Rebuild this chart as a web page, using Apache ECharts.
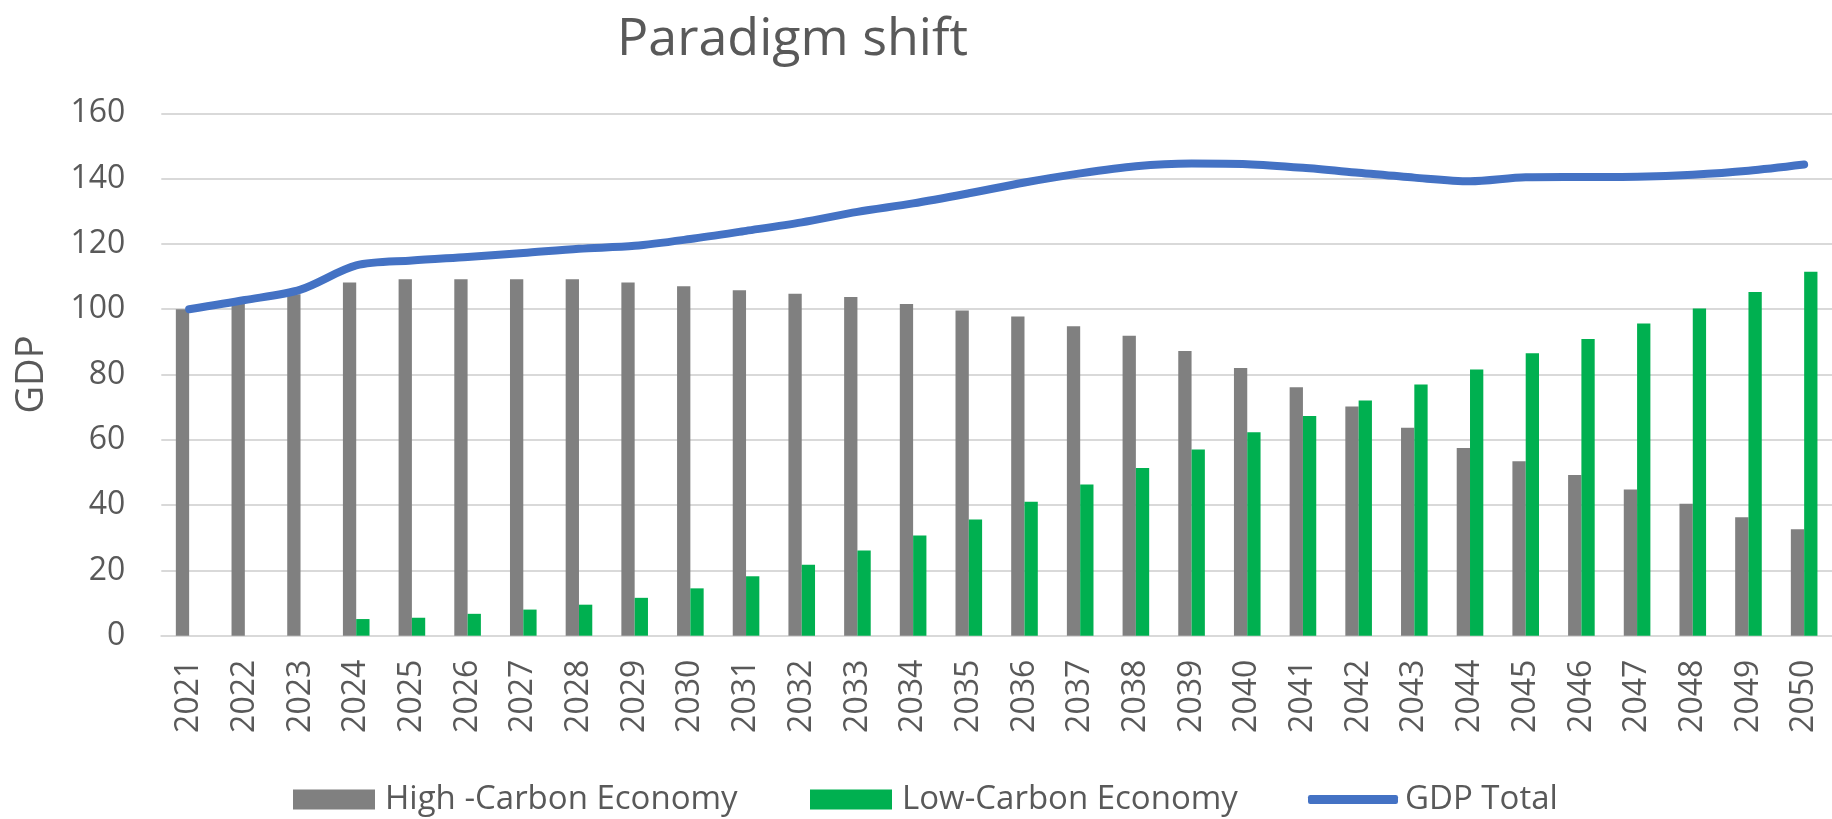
<!DOCTYPE html>
<html><head><meta charset="utf-8">
<script src="https://cdn.jsdelivr.net/npm/echarts@6/dist/echarts.min.js"></script>
<style>html,body{margin:0;padding:0;background:#fff;overflow:hidden;}#c{width:1832px;height:880px;}</style>
</head><body><div id="c"></div>
<script>
const years = ['2021','2022','2023','2024','2025','2026','2027','2028','2029','2030',
  '2031','2032','2033','2034','2035','2036','2037','2038','2039','2040',
  '2041','2042','2043','2044','2045','2046','2047','2048','2049','2050'];
const highCarbon = [100, 101.8, 104.6, 108.2, 109.2, 109.2, 109.2, 109.2, 108.2, 107,
  105.8, 104.7, 103.7, 101.6, 99.6, 97.8, 94.8, 91.9, 87.2, 82,
  76.1, 70.2, 63.7, 57.5, 53.4, 49.2, 44.8, 40.4, 36.3, 32.6];
const lowCarbon = [0, 0, 0, 5.1, 5.5, 6.7, 8, 9.5, 11.6, 14.5,
  18.2, 21.7, 26.1, 30.7, 35.6, 41, 46.3, 51.4, 57, 62.3,
  67.3, 72, 76.9, 81.5, 86.5, 90.9, 95.6, 100.2, 105.3, 111.5];
const gdpTotal = [100, 102.8, 106, 113.4, 114.9, 116, 117.2, 118.5, 119.4, 121.5,
  124, 126.6, 129.8, 132.4, 135.5, 138.8, 141.6, 143.8, 144.6, 144.4,
  143.3, 141.8, 140.3, 139.2, 140.4, 140.5, 140.6, 141.2, 142.4, 144.3];
const seriesNames = ['High -Carbon Economy', 'Low-Carbon Economy', 'GDP Total'];

const FONT = 'Open Sans';
const TXT = '#595959';
const chart = echarts.init(document.getElementById('c'), null, {renderer: 'canvas'});
chart.setOption({
  animation: false,
  backgroundColor: '#ffffff',
  title: {
    text: 'Paradigm shift',
    left: 617, top: 14, padding: 0,
    textStyle: {fontFamily: FONT, fontSize: 52, fontWeight: 'normal', color: TXT}
  },
  legend: [
    {data: [seriesNames[0]], left: 293, top: 783, padding: 0, itemWidth: 82, itemHeight: 20, itemGap: 0,
     icon: 'rect', textStyle: {fontFamily: FONT, fontSize: 33, color: TXT, padding: [0, 0, 0, 5]}},
    {data: [seriesNames[1]], left: 810, top: 783, padding: 0, itemWidth: 82, itemHeight: 20, itemGap: 0,
     icon: 'rect', textStyle: {fontFamily: FONT, fontSize: 33, color: TXT, padding: [0, 0, 0, 5]}},
    {data: [seriesNames[2]], left: 1308, top: 783, padding: 0, itemWidth: 90, itemHeight: 9, itemGap: 0,
     icon: 'roundRect', textStyle: {fontFamily: FONT, fontSize: 33, color: TXT, padding: [0, 0, 0, 2]}}
  ],
  grid: {left: 161.3, top: 113.3, width: 1679, height: 522.4, containLabel: false},
  xAxis: {
    type: 'category', data: years,
    axisTick: {show: false},
    axisLine: {lineStyle: {color: '#D9D9D9', width: 2}},
    axisLabel: {rotate: 90, interval: 0, margin: 24, fontFamily: FONT, fontSize: 32, color: TXT}
  },
  yAxis: {
    type: 'value', min: 0, max: 160, interval: 20,
    name: 'GDP', nameLocation: 'middle', nameGap: 110, nameRotate: 90,
    nameTextStyle: {fontFamily: FONT, fontSize: 38, color: TXT},
    axisLine: {show: false}, axisTick: {show: false},
    axisLabel: {margin: 36, fontFamily: FONT, fontSize: 32, color: TXT},
    splitLine: {lineStyle: {color: '#D9D9D9', width: 2}}
  },
  series: [
    {name: seriesNames[0], type: 'bar', data: highCarbon, barWidth: 13.3, barGap: '0%',
     itemStyle: {color: '#808080'}},
    {name: seriesNames[1], type: 'bar', data: lowCarbon, barWidth: 13.3, barGap: '0%',
     itemStyle: {color: '#00B050'}},
    {name: seriesNames[2], type: 'line', data: gdpTotal, symbol: 'none', smooth: 0.3, z: 5,
     itemStyle: {color: '#4472C4'},
     lineStyle: {color: '#4472C4', width: 8, cap: 'round', join: 'round'}}
  ]
});
</script></body></html>
